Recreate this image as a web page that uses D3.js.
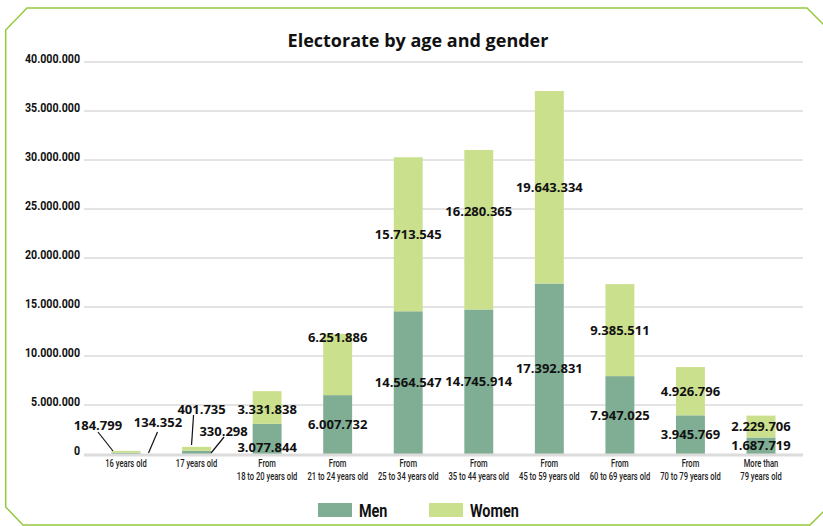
<!DOCTYPE html>
<html>
<head>
<meta charset="utf-8">
<script src="https://cdn.jsdelivr.net/npm/d3@7"></script>
<style>
  body { margin: 0; background: #fff; }
  svg { display: block; }
</style>
</head>
<body>
<div id="chart"></div>
<script>
// data
var categories = ["16", "17", "18-20", "21-24", "25-34", "35-44", "45-59", "60-69", "70-79", "80+"];
var catLabels = [
  ["16 years old"], ["17 years old"],
  ["From", "18 to 20 years old"], ["From", "21 to 24 years old"],
  ["From", "25 to 34 years old"], ["From", "35 to 44 years old"],
  ["From", "45 to 59 years old"], ["From", "60 to 69 years old"],
  ["From", "70 to 79 years old"], ["More than", "79 years old"]
];
var men   = [134352, 330298, 3077844, 6007732, 14564547, 14745914, 17392831, 7947025, 3945769, 1687719];
var women = [184799, 401735, 3331838, 6251886, 15713545, 16280365, 19643334, 9385511, 4926796, 2229706];
var yTicks = [0, 5000000, 10000000, 15000000, 20000000, 25000000, 30000000, 35000000, 40000000];
var seriesNames = ["Men", "Women"];
var colors = ["#80ae94", "#cbe08c"];

// label nudges (px) for a few labels, and callouts for the tiny bars
var nudgeMen   = [0, 0, 9, 0, 0, 0, 0, 0, 0, 0];
var nudgeWomen = [0, 0, 2, -27, 0, -18, 0, 0, 0, 0];
var callouts = [
  // i, series, label dx/dy from bar centre & baseline, line from -> to
  { i: 0, s: 1, dx: -28, dy: -29, lx1: -28, ly1: -22, lx2: -13, ly2: -3 },
  { i: 0, s: 0, dx: 32,  dy: -32, lx1: 31.5, ly1: -22, lx2: 22.5, ly2: -1 },
  { i: 1, s: 1, dx: 5,   dy: -45, lx1: -3, ly1: -39, lx2: -5, ly2: -9 },
  { i: 1, s: 0, dx: 27,  dy: -23, lx1: 27.5, ly1: -17, lx2: 14.5, ly2: -1 }
];

var W = 823, H = 526;
var condensed = "'Roboto', 'Liberation Sans', sans-serif";

var svg = d3.select("#chart").append("svg")
  .attr("width", W).attr("height", H);

// frame
svg.append("path")
  .attr("d", "M27,8 L807,8 L840,41 L840,495 L810,525 L23,525 L5.7,507 L5.7,30 Z")
  .attr("fill", "none")
  .attr("stroke", "#95c93d")
  .attr("stroke-width", 1.5);

svg.append("text")
  .attr("x", 418).attr("y", 47)
  .attr("text-anchor", "middle")
  .style("font-family", "'Open Sans', sans-serif")
  .style("font-weight", 700)
  .style("font-size", "18px")
  .style("fill", "#111")
  .text("Electorate by age and gender");

var x = d3.scaleBand()
  .domain(categories)
  .range([84, 803])
  .paddingInner(0.59)
  .paddingOuter(0.39);

var y = d3.scaleLinear()
  .domain([0, 40000000])
  .range([454, 62]);

var fmt = function(v) { return d3.format(",")(v).replace(/,/g, "."); };

// gridlines + y labels
var grid = svg.append("g");
grid.selectAll("line").data(yTicks.filter(function(d) { return d > 0; })).enter()
  .append("line")
    .attr("x1", 84).attr("x2", 803)
    .attr("y1", function(d) { return y(d); })
    .attr("y2", function(d) { return y(d); })
    .attr("stroke", "#c8c8c8")
    .attr("stroke-width", 1);

grid.selectAll("text").data(yTicks).enter()
  .append("text")
    .attr("transform", function(d) { return "translate(80," + y(d) + ") scale(0.82,1)"; })
    .attr("dy", "0.1em")
    .attr("text-anchor", "end")
    .style("font-family", condensed)
    .style("font-weight", 700)
    .style("font-size", "13px")
    .style("fill", "#111")
    .text(function(d) { return fmt(d); });

// stacked bars
var rows = categories.map(function(c, i) { return { cat: c, Men: men[i], Women: women[i] }; });
var stack = d3.stack().keys(seriesNames)(rows);

svg.append("g").selectAll("g").data(stack).enter()
  .append("g")
    .attr("fill", function(d, i) { return colors[i]; })
  .selectAll("rect").data(function(d) { return d; }).enter()
  .append("rect")
    .attr("x", function(d) { return x(d.data.cat); })
    .attr("width", x.bandwidth())
    .attr("y", function(d) { return y(d[1]); })
    .attr("height", function(d) { return y(d[0]) - y(d[1]); });

// baseline
svg.append("line")
  .attr("x1", 84).attr("x2", 803)
  .attr("y1", y(0) + 1).attr("y2", y(0) + 1)
  .attr("stroke", "#dcdcdc")
  .attr("stroke-width", 3);

// value labels
var labelStyle = function(sel) {
  sel.attr("text-anchor", "middle")
    .attr("dy", "0.35em")
    .style("font-family", "'Open Sans', sans-serif")
    .style("font-weight", 700)
    .style("font-size", "13px")
    .style("fill", "#111");
};

var valueLayer = svg.append("g");
stack.forEach(function(layer, s) {
  layer.forEach(function(d, i) {
    if (i < 2) return;
    var nudge = s === 0 ? nudgeMen[i] : nudgeWomen[i];
    valueLayer.append("text")
      .attr("x", x(d.data.cat) + x.bandwidth() / 2)
      .attr("y", (y(d[0]) + y(d[1])) / 2 + nudge)
      .call(labelStyle)
      .text(fmt(s === 0 ? men[i] : women[i]));
  });
});

// callouts for small bars
callouts.forEach(function(c) {
  var cx = x(categories[c.i]) + x.bandwidth() / 2;
  var by = y(0);
  valueLayer.append("line")
    .attr("x1", cx + c.lx1).attr("y1", by + c.ly1)
    .attr("x2", cx + c.lx2).attr("y2", by + c.ly2)
    .attr("stroke", "#111")
    .attr("stroke-width", 1.2);
  valueLayer.append("text")
    .attr("x", cx + c.dx)
    .attr("y", by + c.dy)
    .call(labelStyle)
    .text(fmt(c.s === 0 ? men[c.i] : women[c.i]));
});

// x labels
var xl = svg.append("g");
categories.forEach(function(c, i) {
  var t = xl.append("text")
    .attr("transform", "translate(" + (x(c) + x.bandwidth() / 2) + ",467) scale(0.76,1)")
    .attr("text-anchor", "middle")
    .style("font-family", condensed)
    .style("font-weight", 500)
    .style("font-size", "10px")
    .style("fill", "#222");
  catLabels[i].forEach(function(line, k) {
    t.append("tspan")
      .attr("x", 0)
      .attr("dy", k === 0 ? 0 : 12.7)
      .text(line);
  });
});

// legend
var legendX = [318, 429];
var lg = svg.append("g");
seriesNames.forEach(function(name, i) {
  lg.append("rect")
    .attr("x", legendX[i]).attr("y", 503)
    .attr("width", 34).attr("height", 14)
    .attr("fill", colors[i]);
  lg.append("text")
    .attr("transform", "translate(" + (legendX[i] + 41) + ",516.5) scale(0.8,1)")
    .style("font-family", condensed)
    .style("font-weight", 700)
    .style("font-size", "18px")
    .style("fill", "#111")
    .text(name);
});
</script>
</body>
</html>
